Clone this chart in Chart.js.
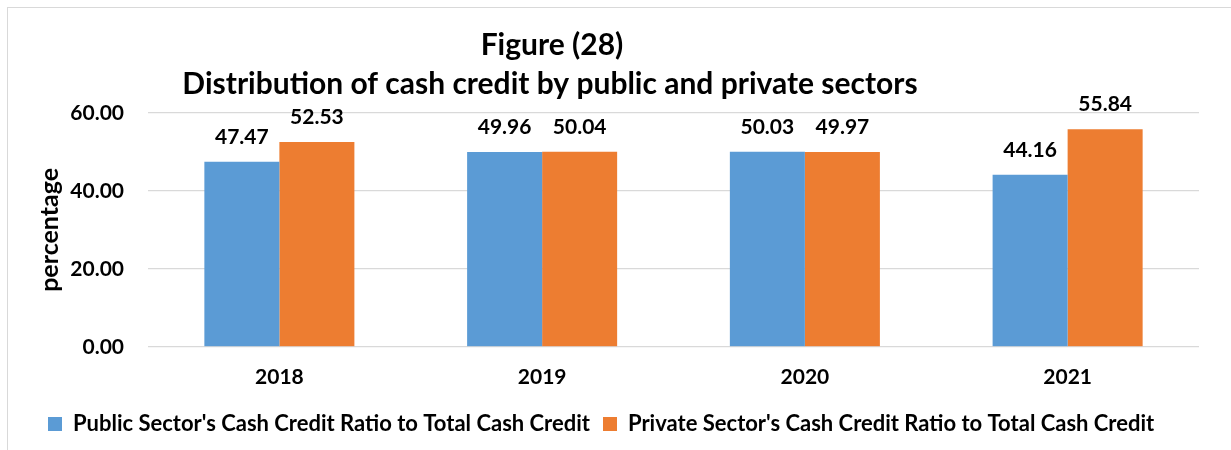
<!DOCTYPE html>
<html>
<head>
<meta charset="utf-8">
<script src="https://cdn.jsdelivr.net/npm/chart.js@4"></script>
<style>
  html, body { margin: 0; padding: 0; background: #fff; overflow: hidden; }
  #wrap { position: relative; width: 1231px; height: 450px; }
  #frame { position: absolute; left: 7px; top: 7px; width: 1400px; height: 600px; border: 1px solid #d9d9d9; box-sizing: border-box; }
  canvas { position: absolute; left: 0; top: 0; }
</style>
</head>
<body>
<div id="wrap">
  <div id="frame"></div>
  <canvas id="chart" width="1231" height="450"></canvas>
</div>
<script>
const years = ['2018', '2019', '2020', '2021'];
const publicShare = [47.47, 49.96, 50.03, 44.16];
const privateShare = [52.53, 50.04, 49.97, 55.84];
const yTicks = [0, 20, 40, 60];

const FONT = 'Lato, "Open Sans", sans-serif';

// two-line heading, drawn a little left of the canvas centre
const headingPlugin = {
  id: 'heading',
  afterDraw(chart) {
    const ctx = chart.ctx;
    ctx.save();
    ctx.fillStyle = '#000';
    ctx.textAlign = 'center';
    ctx.textBaseline = 'alphabetic';
    ctx.font = `bold 30px ${FONT}`;
    ctx.fillText('Figure (28)', 552, 55);
    ctx.fillText('Distribution of cash credit by public and private sectors', 550, 94);
    ctx.restore();
  },
};

// value printed above each bar
const valueLabels = {
  id: 'valueLabels',
  afterDatasetsDraw(chart) {
    const ctx = chart.ctx;
    ctx.save();
    ctx.fillStyle = '#000';
    ctx.textAlign = 'center';
    ctx.textBaseline = 'alphabetic';
    ctx.font = `bold 21px ${FONT}`;
    chart.data.datasets.forEach((ds, i) => {
      chart.getDatasetMeta(i).data.forEach((bar, j) => {
        ctx.fillText(ds.data[j].toFixed(2), bar.x, bar.y - 18);
      });
    });
    ctx.restore();
  },
};

new Chart(document.getElementById('chart'), {
  type: 'bar',
  data: {
    labels: years,
    datasets: [
      {
        label: "Public Sector's Cash Credit Ratio to Total Cash Credit",
        data: publicShare,
        backgroundColor: '#5b9bd5',
      },
      {
        label: "Private Sector's Cash Credit Ratio to Total Cash Credit",
        data: privateShare,
        backgroundColor: '#ed7d31',
      },
    ],
  },
  options: {
    responsive: false,
    animation: false,
    layout: {
      padding: { top: 113, left: 35, right: 32, bottom: 5 },
    },
    categoryPercentage: 0.571,
    barPercentage: 1.0,
    plugins: {
      title: { display: false },
      tooltip: { enabled: false },
      legend: {
        position: 'bottom',
        align: 'start',
        labels: {
          color: '#000',
          font: { family: FONT, size: 22, weight: 'bold' },
          boxWidth: 14,
          boxHeight: 14,
          padding: 13,
        },
      },
    },
    scales: {
      x: {
        grid: { display: false },
        border: { display: false },
        ticks: {
          color: '#000',
          padding: 10,
          font: { family: FONT, size: 21, weight: 'bold' },
        },
      },
      y: {
        min: 0,
        max: 60,
        afterBuildTicks(scale) {
          scale.ticks = yTicks.map((v) => ({ value: v }));
        },
        afterFit(scale) {
          scale.width = 113;
        },
        grid: { color: '#d9d9d9', lineWidth: 1.3, drawTicks: false },
        border: { display: false },
        ticks: {
          color: '#000',
          padding: 24,
          font: { family: FONT, size: 21, weight: 'bold' },
          callback: (v) => Number(v).toFixed(2),
        },
        title: {
          display: true,
          text: 'percentage',
          color: '#000',
          padding: { top: 0, bottom: 0 },
          font: { family: FONT, size: 25, weight: 'bold' },
        },
      },
    },
  },
  plugins: [headingPlugin, valueLabels],
});
</script>
</body>
</html>
